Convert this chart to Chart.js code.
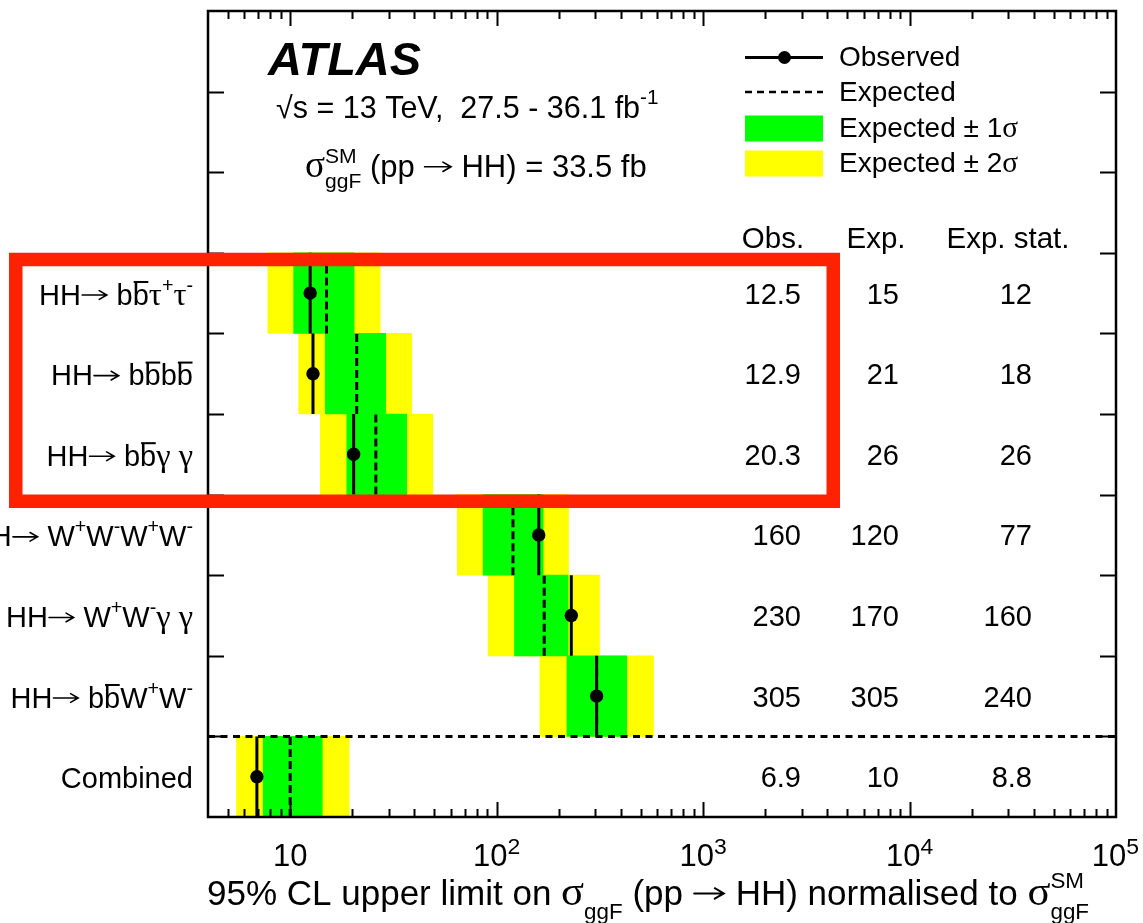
<!DOCTYPE html>
<html>
<head>
<meta charset="utf-8">
<script src="https://cdn.jsdelivr.net/npm/chart.js@4.4.1/dist/chart.umd.min.js"></script>
<style>
  html, body { margin: 0; padding: 0; background: #fff; }
  canvas { display: block; }
</style>
</head>
<body>
<canvas id="c" width="1143" height="923"></canvas>
<script>
// Search channels, listed top to bottom (markup: ^{} sup, _{} sub, #bar{} overline)
const channels = [
  'HH→ b#bar{b}τ^{+}τ^{-}',
  'HH→ b#bar{b}b#bar{b}',
  'HH→ b#bar{b}γ γ',
  'HH→ W^{+}W^{-}W^{+}W^{-}',
  'HH→ W^{+}W^{-}γ γ',
  'HH→ b#bar{b}W^{+}W^{-}',
  'Combined'
];

// 95% CL upper limits on sigma_ggF(pp -> HH) / sigma_ggF^SM
const observed     = [12.5, 12.9, 20.3, 160, 230, 305, 6.9];
const expected     = [15, 21, 26, 120, 170, 305, 10];
const expectedStat = [12, 18, 26, 77, 160, 240, 8.8];

// Expected-limit bands
const minus2sigma = [7.8, 11.0, 14.0, 64.5, 91, 162, 5.5];
const minus1sigma = [10.4, 14.8, 18.8, 86, 122, 219, 7.4];
const plus1sigma  = [20.4, 29.0, 36.7, 168, 222, 427, 14.3];
const plus2sigma  = [27.3, 38.8, 49.1, 223, 315, 575, 19.3];

// Axis settings and labels
const xMin = 4, xMax = 1e5;
const xTickValues = [10, 100, 1e3, 1e4, 1e5];
const xTickLabels = ['10', '10^{2}', '10^{3}', '10^{4}', '10^{5}'];
const xTitle = '95% CL upper limit on σ_{ggF} (pp → HH) normalised to σ^{SM}_{ggF}';
const tableHeaders = ['Obs.', 'Exp.', 'Exp. stat.'];
const legendLabels = ['Observed', 'Expected', 'Expected ± 1σ', 'Expected ± 2σ'];
const highlightedChannels = [0, 1, 2];

const nHeaderRows = 3;
const nRows = channels.length + nHeaderRows;
const rowY = i => channels.length - 0.5 - i;

const SANS = '"Liberation Sans", Arial, Helvetica, sans-serif';
const GREEK = '"Liberation Serif", "DejaVu Serif", serif';
const GREEN = '#00ff00', YELLOW = '#ffff00', RED = '#ff2200';

// ---------- small rich-text renderer ----------
function parseRich(s) {
  const out = [];
  let i = 0;
  const isMark = j => s.startsWith('^{', j) || s.startsWith('_{', j) || s.startsWith('#bar{', j);
  while (i < s.length) {
    if (s.startsWith('^{', i) || s.startsWith('_{', i)) {
      const end = s.indexOf('}', i);
      out.push({ text: s.slice(i + 2, end), mode: s[i] === '^' ? 'sup' : 'sub' });
      i = end + 1;
    } else if (s.startsWith('#bar{', i)) {
      const end = s.indexOf('}', i);
      out.push({ text: s.slice(i + 5, end), mode: 'n', bar: true });
      i = end + 1;
    } else {
      let j = i;
      while (j < s.length && !isMark(j)) j++;
      out.push({ text: s.slice(i, j), mode: 'n' });
      i = j;
    }
  }
  return out;
}

function layoutRich(ctx, s, size, opts) {
  opts = opts || {};
  const script = opts.script || 0.68;
  const supShift = opts.supShift || 0.45;
  const subShift = opts.subShift || 0.36;
  const greekScale = opts.greekScale || 1.12;
  const toks = parseRich(s);
  const items = [];
  let x = 0, supStart = 0, supWidth = 0, prevMode = 'n';
  for (const t of toks) {
    const fs = t.mode === 'n' ? size : size * script;
    const dy = t.mode === 'sup' ? -size * supShift : t.mode === 'sub' ? size * subShift : 0;
    const start = (t.mode === 'sub' && prevMode === 'sup') ? supStart : x;
    const runs = [];
    for (const ch of t.text) {
      const kind = ch === '→' ? 'arrow' : (/[\u0370-\u03ff]/.test(ch) ? 'greek' : 'latin');
      if (kind !== 'arrow' && runs.length && runs[runs.length - 1].kind === kind) runs[runs.length - 1].s += ch;
      else runs.push({ s: ch, kind });
    }
    let cx = start;
    for (const r of runs) {
      if (r.kind === 'arrow') {
        const w = fs * 0.95;
        items.push({ arrow: true, x: cx, w, dy, size: fs });
        cx += w;
        continue;
      }
      const f = r.kind === 'greek' ? fs * greekScale : fs;
      const font = `${opts.weight || ''} ${f}px ${r.kind === 'greek' ? GREEK : SANS}`;
      ctx.font = font;
      const w = ctx.measureText(r.s).width;
      items.push({ s: r.s, font, x: cx, dy });
      cx += w;
    }
    if (t.bar) items.push({ bar: true, x: start, w: cx - start, dy, size: fs });
    if (t.mode === 'sup') { supStart = start; supWidth = cx - start; x = cx; }
    else if (t.mode === 'sub' && prevMode === 'sup') x = start + Math.max(cx - start, supWidth);
    else x = cx;
    prevMode = t.mode;
  }
  return { items, width: x };
}

function drawRich(ctx, s, x, y, size, align, opts) {
  const L = layoutRich(ctx, s, size, opts);
  const x0 = align === 'right' ? x - L.width : align === 'center' ? x - L.width / 2 : x;
  ctx.save();
  ctx.fillStyle = '#000';
  ctx.strokeStyle = '#000';
  ctx.textAlign = 'left';
  ctx.textBaseline = 'alphabetic';
  for (const it of L.items) {
    if (it.bar) {
      ctx.lineWidth = Math.max(1.5, it.size * 0.07);
      const by = y + it.dy - it.size * 0.78;
      ctx.beginPath();
      ctx.moveTo(x0 + it.x + 1, by);
      ctx.lineTo(x0 + it.x + it.w - 0.5, by);
      ctx.stroke();
    } else if (it.arrow) {
      const s0 = it.size;
      const ay = y + it.dy - s0 * 0.33;
      const ax0 = x0 + it.x + s0 * 0.04, ax1 = x0 + it.x + it.w - s0 * 0.06;
      ctx.lineWidth = Math.max(1.3, s0 * 0.055);
      ctx.lineCap = 'round';
      ctx.beginPath();
      ctx.moveTo(ax0, ay); ctx.lineTo(ax1, ay);
      ctx.moveTo(ax1 - s0 * 0.26, ay - s0 * 0.15); ctx.lineTo(ax1, ay); ctx.lineTo(ax1 - s0 * 0.26, ay + s0 * 0.15);
      ctx.stroke();
      ctx.lineCap = 'butt';
    } else {
      ctx.font = it.font;
      ctx.fillText(it.s, x0 + it.x, y + it.dy);
    }
  }
  ctx.restore();
  return { left: x0, width: L.width };
}

// ---------- datasets ----------
const bandData = (lo, hi) => channels.map((c, i) => ({ x: [lo[i], hi[i]], y: rowY(i) }));
const verticalSegments = vals => {
  const pts = [];
  vals.forEach((v, i) => {
    pts.push({ x: v, y: rowY(i) - 0.5 }, { x: v, y: rowY(i) + 0.5 }, { x: v, y: null });
  });
  return pts;
};

const barCommon = {
  type: 'bar', indexAxis: 'y', grouped: false,
  barPercentage: 1, categoryPercentage: 1, borderWidth: 0
};

const datasets = [
  Object.assign({ label: 'Expected ± 2σ', data: bandData(minus2sigma, plus2sigma), backgroundColor: YELLOW, order: 5 }, barCommon),
  Object.assign({ label: 'Expected ± 1σ', data: bandData(minus1sigma, plus1sigma), backgroundColor: GREEN, order: 4 }, barCommon),
  {
    type: 'line', label: 'separator', order: 3,
    data: [{ x: xMin, y: 1 }, { x: xMax, y: 1 }],
    borderColor: '#000', borderWidth: 3, borderDash: [7, 5.5], pointRadius: 0, spanGaps: false
  },
  {
    type: 'line', label: 'Expected', order: 2,
    data: verticalSegments(expected),
    borderColor: '#000', borderWidth: 3, borderDash: [8, 4], pointRadius: 0, spanGaps: false
  },
  {
    type: 'line', label: 'Observed', order: 1,
    data: verticalSegments(observed),
    borderColor: '#000', borderWidth: 3, pointRadius: 0, spanGaps: false
  },
  {
    type: 'scatter', label: 'Observed markers', order: 0,
    data: channels.map((c, i) => ({ x: observed[i], y: rowY(i) })),
    backgroundColor: '#000', borderColor: '#000', pointRadius: 6.7, borderWidth: 0
  }
];

// ---------- decorations: frame, ticks, labels, table, legend ----------
const decorations = {
  id: 'decorations',
  afterDraw(chart) {
    const ctx = chart.ctx;
    const xs = chart.scales.x, ys = chart.scales.y;
    const A = chart.chartArea;

    ctx.save();
    ctx.strokeStyle = '#000';
    ctx.lineWidth = 2.5;
    ctx.strokeRect(A.left, A.top, A.right - A.left, A.bottom - A.top);

    // x ticks (log decades with minor ticks), drawn inward on bottom and top
    ctx.lineWidth = 2;
    for (let d = Math.floor(Math.log10(xs.min)); d <= Math.ceil(Math.log10(xs.max)); d++) {
      for (let m = 1; m <= 9; m++) {
        const v = m * Math.pow(10, d);
        if (v <= xs.min * 1.0001 || v >= xs.max * 0.9999) continue;
        const px = Math.round(xs.getPixelForValue(v)) + 0.5;
        const len = m === 1 ? 15 : 8;
        ctx.beginPath();
        ctx.moveTo(px, A.bottom); ctx.lineTo(px, A.bottom - len);
        ctx.moveTo(px, A.top); ctx.lineTo(px, A.top + len);
        ctx.stroke();
      }
    }
    // y ticks at row boundaries, left and right
    for (let v = ys.min + 1; v < ys.max; v++) {
      const py = Math.round(ys.getPixelForValue(v)) + 0.5;
      ctx.beginPath();
      ctx.moveTo(A.left, py); ctx.lineTo(A.left + 16, py);
      ctx.moveTo(A.right, py); ctx.lineTo(A.right - 16, py);
      ctx.stroke();
    }
    ctx.restore();

    // x tick labels
    const tickOpts = { script: 0.74, supShift: 0.4 };
    xTickValues.forEach((v, i) => {
      const px = xs.getPixelForValue(v);
      const L = layoutRich(ctx, xTickLabels[i], 31, tickOpts);
      let left = px - L.width / 2;
      if (left + L.width > chart.width - 4) left = chart.width - 4 - L.width;
      drawRich(ctx, xTickLabels[i], left, 866, 31, 'left', tickOpts);
    });

    // x axis title
    drawRich(ctx, xTitle, 207, 905, 35, 'left', { greekScale: 1.22, subShift: 0.4, supShift: 0.48, script: 0.64 });

    // channel labels
    channels.forEach((c, i) => {
      drawRich(ctx, c, 193, ys.getPixelForValue(rowY(i)) + 11.5, 29, 'right');
    });

    // ATLAS header
    ctx.save();
    ctx.fillStyle = '#000';
    ctx.font = `italic bold 47px ${SANS}`;
    ctx.textBaseline = 'alphabetic';
    ctx.fillText('ATLAS', 268, 75);
    ctx.restore();
    drawRich(ctx, '√s = 13 TeV,  27.5 - 36.1 fb^{-1}', 276, 118, 30.5, 'left');
    drawRich(ctx, 'σ^{SM}_{ggF} (pp → HH) = 33.5 fb', 305, 177, 31, 'left', { greekScale: 1.2 });

    // limits table
    const headerCenters = [773, 876, 1008];
    const valueRight = [801, 899, 1032];
    tableHeaders.forEach((h, k) => drawRich(ctx, h, headerCenters[k], 248, 29.5, 'center'));
    const cols = [observed, expected, expectedStat];
    channels.forEach((c, i) => {
      const py = ys.getPixelForValue(rowY(i)) + 10.5;
      cols.forEach((col, k) => drawRich(ctx, String(col[i]), valueRight[k], py, 29, 'right'));
    });

    // legend
    ctx.save();
    const lx0 = 745, lx1 = 823, ltx = 839;
    ctx.strokeStyle = '#000';
    ctx.fillStyle = '#000';
    ctx.lineWidth = 3;
    ctx.beginPath(); ctx.moveTo(lx0, 57.5); ctx.lineTo(lx1, 57.5); ctx.stroke();
    ctx.beginPath(); ctx.arc(784.5, 57.5, 6.5, 0, Math.PI * 2); ctx.fill();
    ctx.lineWidth = 2.5;
    ctx.setLineDash([7, 5]);
    ctx.beginPath(); ctx.moveTo(lx0, 92); ctx.lineTo(lx1, 92); ctx.stroke();
    ctx.setLineDash([]);
    ctx.fillStyle = GREEN; ctx.fillRect(lx0, 115.5, lx1 - lx0, 26);
    ctx.fillStyle = YELLOW; ctx.fillRect(lx0, 150.5, lx1 - lx0, 26);
    ctx.restore();
    const legendBaselines = [66, 101, 136.5, 172];
    legendLabels.forEach((t, k) => drawRich(ctx, t, ltx, legendBaselines[k], 28, 'left', { greekScale: 1.05 }));

    // highlight frame around the bbττ, bbbb and bbγγ channels
    const T = 13.5;
    const top = ys.getPixelForValue(rowY(highlightedChannels[0]) + 0.5);
    const innerBottom = ys.getPixelForValue(rowY(highlightedChannels[highlightedChannels.length - 1]) - 0.5);
    const left = 9, right = 840;
    ctx.save();
    ctx.fillStyle = RED;
    ctx.beginPath();
    ctx.rect(left, top, right - left, innerBottom + T - top);
    ctx.rect(left + T, top + T, right - left - 2 * T, innerBottom - top - T);
    ctx.fill('evenodd');
    ctx.restore();
  }
};

new Chart(document.getElementById('c'), {
  data: { datasets },
  options: {
    responsive: false,
    animation: false,
    devicePixelRatio: 1,
    events: [],
    layout: { padding: { left: 208, right: 27, top: 11, bottom: 106 } },
    plugins: { legend: { display: false }, tooltip: { enabled: false } },
    scales: {
      x: { type: 'logarithmic', min: xMin, max: xMax, offset: false, display: false },
      y: { type: 'linear', min: 0, max: nRows, offset: false, display: false, ticks: { stepSize: 1 } }
    }
  },
  plugins: [decorations]
});
</script>
</body>
</html>
